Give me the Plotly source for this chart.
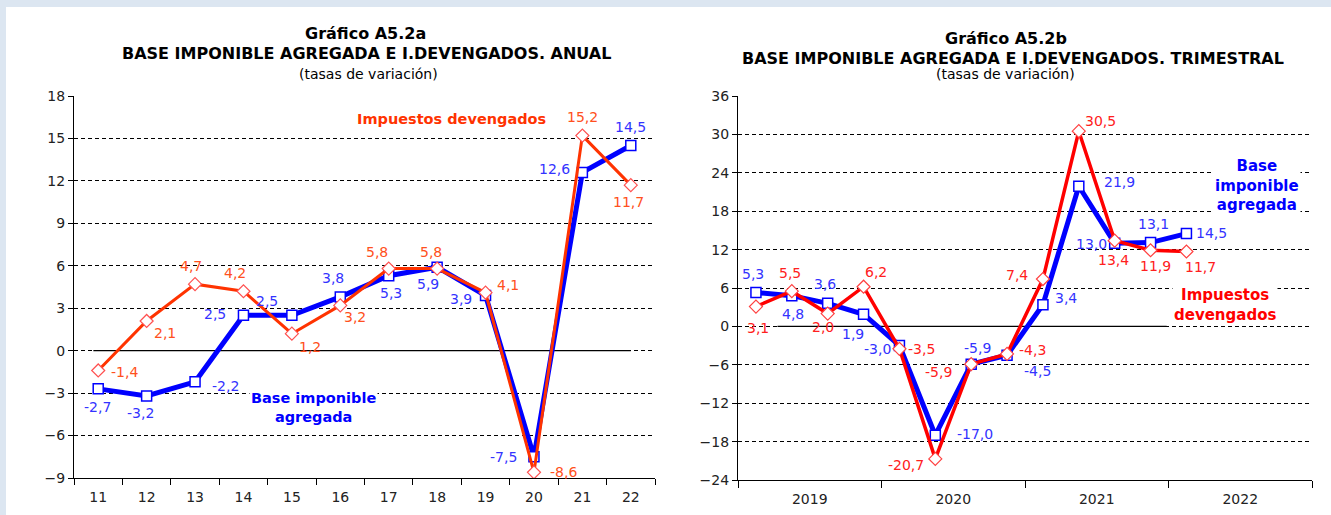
import plotly.graph_objects as go

# Gráfico A5.2a - anual
anios = [11, 12, 13, 14, 15, 16, 17, 18, 19, 20, 21, 22]
base_anual = [-2.7, -3.2, -2.2, 2.5, 2.5, 3.8, 5.3, 5.9, 3.9, -7.5, 12.6, 14.5]
imp_anual = [-1.4, 2.1, 4.7, 4.2, 1.2, 3.2, 5.8, 5.8, 4.1, -8.6, 15.2, 11.7]

# Gráfico A5.2b - trimestral (2019T1 .. 2022T1)
trimestres = list(range(13))
base_trim = [5.3, 4.8, 3.6, 1.9, -3.0, -17.0, -5.9, -4.5, 3.4, 21.9, 13.0, 13.1, 14.5]
imp_trim = [3.1, 5.5, 2.0, 6.2, -3.5, -20.7, -5.9, -4.3, 7.4, 30.5, 13.4, 11.9, 11.7]
years = ["2019", "2020", "2021", "2022"]

# label offsets from each point (px right, px up)
off_base_anual = [(-1, -18), (-6, -17), (30, -4), (-28, 1), (-25, 14), (-7, 19),
                  (2, -17), (-9, -17), (-25, -4), (-30, 0), (-28, 3), (0, 19)]
off_imp_anual = [(26, -2), (18, -12), (-4, 18), (-8, 18), (18, -13), (15, -12),
                 (-12, 17), (-6, 17), (22, 8), (30, 0), (0, 19), (-2, -17)]
off_base_trim = [(-3, 18), (1, -18), (-3, 19), (-11, -20), (-22, -3), (40, 1),
                 (6, 16), (30, -16), (23, 7), (41, 4), (-23, -1), (3, 19), (25, 1)]
off_imp_trim = [(2, -21), (-2, 18), (-5, -13), (12, 15), (22, 0), (-29, -6),
                (-33, -8), (25, 4), (-26, 4), (22, 10), (-1, -19), (5, -16), (14, -15)]

FONT = "DejaVu Sans"
BLUE = "#0000FF"
BLUE_TXT = "#3333FF"
ORANGE = "#FF3300"
ORANGE_TXT = "#FF5020"
RED = "#FF0000"
RED_TXT = "#FF2020"


def fmt(v):
    return f"{v:.1f}".replace(".", ",")


W, H = 1331, 515

fig = go.Figure()

# Left chart
fig.add_trace(go.Scatter(
    x=anios, y=base_anual, mode="lines+markers",
    line=dict(color=BLUE, width=5),
    marker=dict(symbol="square", size=10, color="white", line=dict(color=BLUE, width=1.5)),
    xaxis="x", yaxis="y", showlegend=False, hoverinfo="skip"
))
fig.add_trace(go.Scatter(
    x=anios, y=imp_anual, mode="lines+markers",
    line=dict(color=ORANGE, width=3),
    marker=dict(symbol="diamond", size=10, color="white", line=dict(color="#FF5050", width=1.2)),
    xaxis="x", yaxis="y", showlegend=False, hoverinfo="skip"
))

# Right chart
fig.add_trace(go.Scatter(
    x=trimestres, y=base_trim, mode="lines+markers",
    line=dict(color=BLUE, width=5),
    marker=dict(symbol="square", size=10, color="white", line=dict(color=BLUE, width=1.5)),
    xaxis="x2", yaxis="y2", showlegend=False, hoverinfo="skip"
))
fig.add_trace(go.Scatter(
    x=trimestres, y=imp_trim, mode="lines+markers",
    line=dict(color=RED, width=3.5),
    marker=dict(symbol="diamond", size=10, color="white", line=dict(color="#FF4040", width=1.2)),
    xaxis="x2", yaxis="y2", showlegend=False, hoverinfo="skip"
))

# data labels
label_sets = [
    (anios, base_anual, off_base_anual, BLUE_TXT, "x", "y"),
    (anios, imp_anual, off_imp_anual, ORANGE_TXT, "x", "y"),
    (trimestres, base_trim, off_base_trim, BLUE_TXT, "x2", "y2"),
    (trimestres, imp_trim, off_imp_trim, RED_TXT, "x2", "y2"),
]
for xs, ys, offs, col, xr, yr in label_sets:
    for x, y, (dx, dy) in zip(xs, ys, offs):
        fig.add_annotation(x=x, y=y, xref=xr, yref=yr, text=fmt(y), showarrow=False,
                           xshift=dx, yshift=dy, xanchor="center", yanchor="middle",
                           font=dict(family=FONT, size=14, color=col))

axis_common = dict(
    showline=True, linecolor="black", linewidth=1.2,
    tickfont=dict(family=FONT, size=14, color="#222222"),
    zeroline=False, automargin=False,
)

fig.update_layout(
    template="none",
    width=W, height=H,
    margin=dict(l=0, r=0, t=0, b=0, pad=0),
    paper_bgcolor="#DCE6F1",
    plot_bgcolor="rgba(0,0,0,0)",
    font=dict(family=FONT, size=12, color="black"),
    xaxis=dict(
        domain=[74 / W, 655 / W], range=[10.5, 22.5],
        tickvals=anios, ticktext=[str(a) for a in anios], ticks="", ticklabelstandoff=6,
        minor=dict(tick0=10.5, dtick=1, ticks="outside", ticklen=6, tickcolor="black", showgrid=False),
        showgrid=False, anchor="y", **axis_common
    ),
    yaxis=dict(
        domain=[1 - 478 / H, 1 - 96 / H], range=[-9, 18], dtick=3,
        ticks="outside", ticklen=5, tickcolor="black",
        showgrid=True, gridcolor="black", griddash="4px,3px", gridwidth=1,
        anchor="x", **axis_common
    ),
    xaxis2=dict(
        domain=[738 / W, 1312 / W], range=[-0.5, 15.5],
        tickvals=[1.5, 5.5, 9.5, 13.5], ticktext=years, ticks="", ticklabelstandoff=6,
        minor=dict(tick0=-0.5, dtick=4, ticks="outside", ticklen=7, tickcolor="black", showgrid=False),
        showgrid=False, anchor="y2", **axis_common
    ),
    yaxis2=dict(
        domain=[1 - 480 / H, 1 - 96 / H], range=[-24, 36], dtick=6,
        ticks="outside", ticklen=5, tickcolor="black",
        showgrid=True, gridcolor="black", griddash="4px,3px", gridwidth=1,
        anchor="x2", **axis_common
    ),
)

# white panel and solid zero lines
fig.add_shape(type="rect", xref="paper", yref="paper", x0=6 / W, x1=1, y0=0, y1=1 - 7 / H,
              fillcolor="white", line=dict(width=0), layer="below")
fig.add_shape(type="line", xref="x", yref="y", x0=10.9, x1=22, y0=0, y1=0,
              line=dict(color="black", width=1.2), layer="below")
fig.add_shape(type="line", xref="x2", yref="y2", x0=0.6, x1=11.45, y0=0, y1=0,
              line=dict(color="black", width=1.2), layer="below")

# titles
titles = [
    (365, 33, "<b>Gráfico A5.2a</b>", 16),
    (366, 53, "<b>BASE IMPONIBLE AGREGADA E I.DEVENGADOS. ANUAL</b>", 16),
    (368, 74, "(tasas de variación)", 14),
    (1006, 38, "<b>Gráfico A5.2b</b>", 16),
    (1013, 58, "<b>BASE IMPONIBLE AGREGADA E I.DEVENGADOS. TRIMESTRAL</b>", 16),
    (1005, 74, "(tasas de variación)", 14),
]
for x, y, t, s in titles:
    fig.add_annotation(xref="paper", yref="paper", x=x / W, y=1 - y / H, text=t,
                       showarrow=False, xanchor="center", yanchor="middle",
                       font=dict(family=FONT, size=s, color="black"))

# series names
fig.add_annotation(xref="x", yref="y", x=18.29, y=16.4, text="<b>Impuestos devengados</b>",
                   showarrow=False, font=dict(family=FONT, size=14.5, color=ORANGE),
                   bgcolor="white")
fig.add_annotation(xref="x", yref="y", x=15.44, y=-4.0, text="<b>Base imponible<br>agregada</b>",
                   showarrow=False, font=dict(family=FONT, size=14.5, color=BLUE),
                   bgcolor="white")
fig.add_annotation(xref="x2", yref="y2", x=13.96, y=22.0, text="<b>Base<br>imponible<br>agregada</b>",
                   showarrow=False, font=dict(family=FONT, size=15, color=BLUE),
                   bgcolor="white")
fig.add_annotation(xref="x2", yref="y2", x=13.07, y=3.3, text="<b>Impuestos<br>devengados</b>",
                   showarrow=False, font=dict(family=FONT, size=15, color=RED),
                   bgcolor="white")

fig.write_html("out.html", config={"displayModeBar": False},
               post_script="document.body.style.margin='0';document.body.style.overflow='hidden';")
